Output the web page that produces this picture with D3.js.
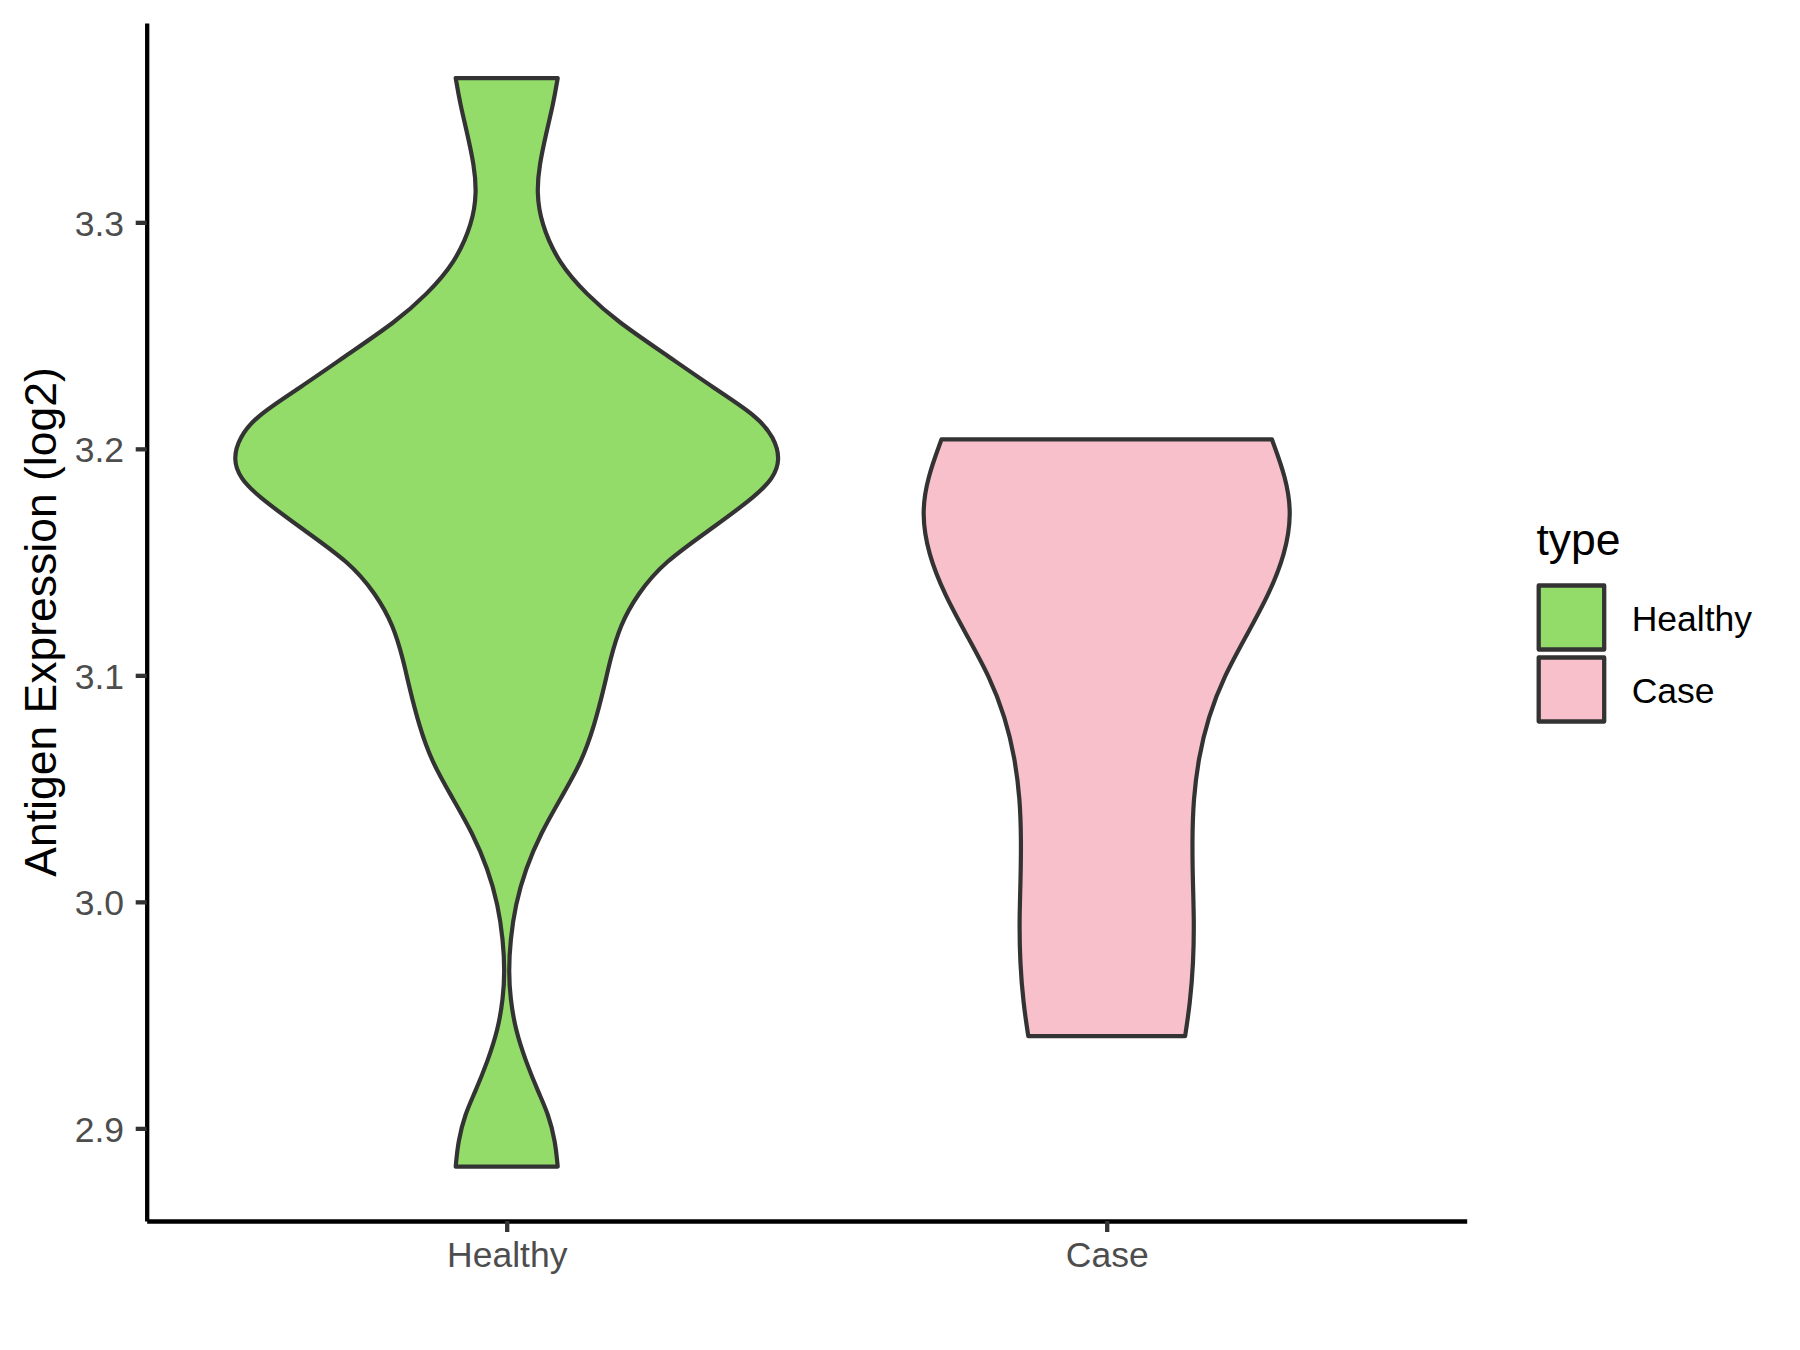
<!DOCTYPE html>
<html>
<head>
<meta charset="utf-8">
<script src="https://cdn.jsdelivr.net/npm/d3@7"></script>
<style>
  html, body { margin: 0; padding: 0; background: #ffffff; }
  svg { display: block; font-family: "Liberation Sans", Arial, sans-serif; }
</style>
</head>
<body>
<svg id="chart" width="1800" height="1350"></svg>
<script>
// ---- data ----
const categories = ["Healthy", "Case"];
const yTicks = [2.9, 3.0, 3.1, 3.2, 3.3];

// violin outlines: expression value and half-width (in category units)
const healthyValues = [3.3637, 3.3528, 3.3390, 3.3252, 3.3134, 3.2996, 3.2819, 3.2681, 3.2562, 3.2424, 3.2267, 3.2148, 3.2050, 3.1951, 3.1870, 3.1794, 3.1656, 3.1498, 3.1360, 3.1222, 3.1064, 3.0954, 3.0777, 3.0619, 3.0461, 3.0304, 3.0146, 2.9988, 2.9830, 2.9693, 2.9574, 2.9436, 2.9298, 2.9160, 2.9061, 2.8943, 2.8831];
const healthyHalfWidths = [0.085, 0.078, 0.0655, 0.0544, 0.050, 0.057, 0.0867, 0.1335, 0.1845, 0.261, 0.346, 0.416, 0.446, 0.456, 0.444, 0.416, 0.346, 0.261, 0.2185, 0.189, 0.172, 0.163, 0.146, 0.125, 0.091, 0.057, 0.0315, 0.0145, 0.006, 0.0033, 0.006, 0.0145, 0.0315, 0.0527, 0.0697, 0.081, 0.085];

const caseValues = [3.2042, 3.1873, 3.1715, 3.1535, 3.1355, 3.1175, 3.0995, 3.0815, 3.0634, 3.0454, 3.0274, 3.0094, 2.9913, 2.9733, 2.9553, 2.9407];
const caseHalfWidths = [0.2753, 0.2987, 0.3085, 0.2975, 0.270, 0.2328, 0.1955, 0.169, 0.153, 0.1445, 0.1425, 0.1435, 0.1457, 0.1445, 0.139, 0.1307];

const fillColors = ["#94DC6A", "#F7C0CB"];

// ---- layout ----
const svg = d3.select("#chart");
const panel = { left: 146.7, right: 1466.7, top: 23, bottom: 1221 };

const x = d3.scalePoint().domain(categories).range([panel.left, panel.right]).padding(0.6);
const unit = d3.scaleLinear().domain([0, 1]).range([0, x.step()]);
const y = d3.scaleLinear().domain([2.8591, 3.3880]).range([panel.bottom, panel.top]);

const violins = [
  { cat: "Healthy", values: healthyValues, half: healthyHalfWidths, fill: fillColors[0] },
  { cat: "Case", values: caseValues, half: caseHalfWidths, fill: fillColors[1] }
];

const area = d3.area()
  .y(d => y(d.v))
  .x0(d => d.cx - unit(d.h))
  .x1(d => d.cx + unit(d.h))
  .curve(d3.curveBasis);

svg.append("g").selectAll("path")
  .data(violins)
  .join("path")
  .attr("d", d => area(d.values.map((v, i) => ({ v, h: d.half[i], cx: x(d.cat) }))))
  .attr("fill", d => d.fill)
  .attr("stroke", "#333333")
  .attr("stroke-width", 4.2)
  .attr("stroke-linejoin", "round");

// ---- axes ----
const yAxis = d3.axisLeft(y)
  .tickValues(yTicks)
  .tickFormat(d3.format(".1f"))
  .tickSize(11)
  .tickSizeOuter(0)
  .tickPadding(11.7);

const gy = svg.append("g").attr("transform", `translate(${panel.left},0)`).call(yAxis);
gy.select(".domain").attr("stroke", "#000").attr("stroke-width", 4.3);
gy.selectAll(".tick line").attr("stroke", "#333333").attr("stroke-width", 4.3);
gy.selectAll(".tick text")
  .attr("fill", "#4D4D4D")
  .attr("font-size", 35.5)
  .attr("font-family", "Liberation Sans, Arial, sans-serif")
  .attr("dy", "0.358em");

const xAxis = d3.axisBottom(x)
  .tickSize(11)
  .tickSizeOuter(0)
  .tickPadding(9.3);

const gx = svg.append("g").attr("transform", `translate(0,${panel.bottom})`).call(xAxis);
gx.select(".domain").attr("stroke", "#000").attr("stroke-width", 4.3);
gx.selectAll(".tick line").attr("stroke", "#333333").attr("stroke-width", 4.3);
gx.selectAll(".tick text")
  .attr("fill", "#4D4D4D")
  .attr("font-size", 35.5)
  .attr("font-family", "Liberation Sans, Arial, sans-serif");

// y-axis title
svg.append("text")
  .attr("transform", `translate(56,${(panel.top + panel.bottom) / 2}) rotate(-90)`)
  .attr("text-anchor", "middle")
  .attr("font-size", 44.5)
  .attr("fill", "#000")
  .text("Antigen Expression (log2)");

// ---- legend ----
const legend = svg.append("g");
legend.append("text")
  .attr("x", 1536.5)
  .attr("y", 555)
  .attr("font-size", 44.5)
  .attr("fill", "#000")
  .text("type");

const keys = legend.selectAll("g.key")
  .data(categories)
  .join("g")
  .attr("class", "key")
  .attr("transform", (d, i) => `translate(1538.7,${585.5 + i * 72})`);

keys.append("rect")
  .attr("width", 65.5)
  .attr("height", 64)
  .attr("fill", (d, i) => fillColors[i])
  .attr("stroke", "#333333")
  .attr("stroke-width", 4.3)
  .attr("stroke-linejoin", "round");

keys.append("text")
  .attr("x", 93)
  .attr("y", 45.2)
  .attr("font-size", 35.5)
  .attr("fill", "#000")
  .text(d => d);
</script>
</body>
</html>
